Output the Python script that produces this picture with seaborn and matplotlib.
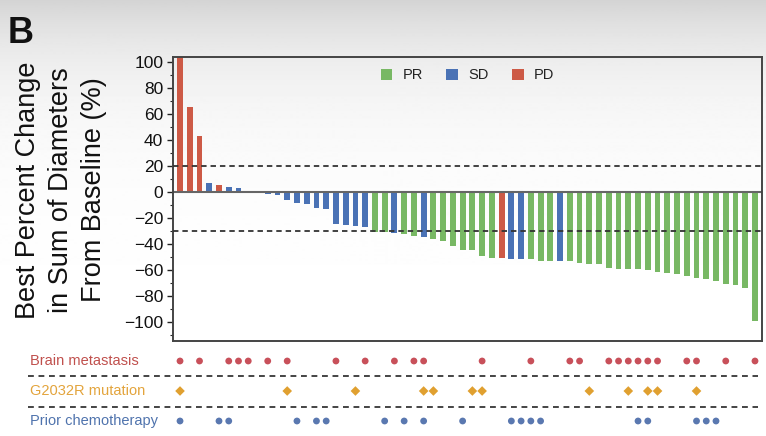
import numpy as np
import pandas as pd
import seaborn as sns
import matplotlib
matplotlib.use('Agg')
import matplotlib.pyplot as plt
import matplotlib.transforms as mtransforms
from matplotlib import font_manager
from matplotlib.ticker import MultipleLocator

# best % change per patient (sorted waterfall)
best_change = [108, 65, 43, 7, 5, 3.8, 3.3, 1, 0.3, -2, -2.3, -6, -8.5, -9.7, -12.7,
               -13, -25, -25.2, -26, -26.7, -30.5, -31, -31.8, -32.6, -34, -34.6,
               -36.4, -38, -42, -44.5, -45, -49.3, -50.8, -50.8, -51.4, -51.6, -51.9,
               -52.9, -53.2, -53.2, -53.4, -54.5, -55.2, -55.2, -58.5, -59, -59.3,
               -59.5, -60.3, -61.6, -62.3, -63.4, -65, -66, -67, -68.4, -70.5, -71.8,
               -73.8, -99]
response = (['PD', 'PD', 'PD', 'SD', 'PD'] + ['SD'] * 15 + ['PR', 'PR', 'SD', 'PR', 'PR', 'SD']
            + ['PR'] * 7 + ['PD', 'SD', 'SD'] + ['PR'] * 3 + ['SD'] + ['PR'] * 20)
response_order = ['PR', 'SD', 'PD']

# patient numbers (1-based, same order as bars) flagged in each row
brain_metastasis = [1, 3, 6, 7, 8, 10, 12, 17, 20, 23, 25, 26, 32, 37, 41, 42, 45, 46,
                    47, 48, 49, 50, 53, 54, 57, 60]
g2032r_mutation = [1, 12, 19, 26, 27, 31, 32, 43, 47, 49, 50, 54]
prior_chemo = [1, 5, 6, 13, 15, 16, 22, 24, 26, 30, 35, 36, 37, 38, 48, 49, 54, 55, 56]
row_labels = ['Brain metastasis', 'G2032R mutation', 'Prior chemotherapy']

bar_colors = {'PR': '#78b864', 'SD': '#4a72b5', 'PD': '#cd5a46'}
row_colors = {'Brain metastasis': '#c8505a', 'G2032R mutation': '#e0a030',
              'Prior chemotherapy': '#5a78b0'}
text_colors = {'Brain metastasis': '#c0504d', 'G2032R mutation': '#e3a43c',
               'Prior chemotherapy': '#4f73ad'}

sns.set_theme(style='white')
installed = {f.name for f in font_manager.fontManager.ttflist}
narrow = 'Liberation Sans Narrow' if 'Liberation Sans Narrow' in installed else 'Liberation Sans'
plt.rcParams['font.family'] = ['Liberation Sans', 'DejaVu Sans']

W, H = 766, 436
fig = plt.figure(figsize=(W / 100, H / 100), dpi=100)

# soft grey gradient at the top of the panel
bg = fig.add_axes([0, 0, 1, 1], zorder=-10)
rows_px = np.arange(H)
grad = (1 - 0.17 * np.exp(-rows_px / 70.0))[:, None]
bg.imshow(grad, cmap='gray', vmin=0, vmax=1, aspect='auto', extent=[0, 1, 0, 1])
bg.axis('off')

ax_l, ax_r, ax_t, ax_b = 173, 762, 56.7, 340.7
ax = fig.add_axes([ax_l / W, 1 - ax_b / H, (ax_r - ax_l) / W, (ax_b - ax_t) / H])
ax.set_facecolor('none')

df = pd.DataFrame({'patient': np.arange(len(best_change)), 'change': best_change,
                   'response': response})
sns.barplot(data=df, x='patient', y='change', hue='response', hue_order=response_order,
            palette=bar_colors, dodge=False, width=0.6, saturation=1, errorbar=None,
            linewidth=0, ax=ax)

xlim = (-0.72, len(best_change) - 1 + 0.72)
ax.set_xlim(*xlim)
ax.set_ylim(-114.5, 104)
ax.axhline(0, color='#666666', lw=1.5, zorder=1)
for yv in (20, -30):
    ax.axhline(yv, color='#333333', lw=1.3, ls=(0, (3, 2.2)), zorder=3)

ax.set_xticks([])
ax.set_xlabel('')
ax.set_ylabel('')
ax.yaxis.set_major_locator(MultipleLocator(20))
ax.yaxis.set_minor_locator(MultipleLocator(10))
ax.tick_params(axis='y', which='major', direction='out', length=4, width=1, left=True,
               labelsize=12.5, pad=3, colors='#222222')
ax.tick_params(axis='y', which='minor', direction='out', length=2.5, width=0.8, left=True)
for lab in ax.get_yticklabels():
    lab.set_color('#111111')
for sp in ax.spines.values():
    sp.set_color('#444444')
    sp.set_linewidth(1.4)

leg = ax.legend(loc='center', bbox_to_anchor=(0.5, 0.935), ncol=3, frameon=False,
                handlelength=0.8, handleheight=0.8, columnspacing=1.6,
                handletextpad=0.7, fontsize=10.5)
for t in leg.get_texts():
    t.set_color('#222222')

fig.text(8 / W, 1 - 43 / H, 'B', fontsize=26, weight='bold', color='#111111',
         va='baseline', ha='left')
fig.text(61 / W, 1 - 190 / H, 'Best Percent Change\nin Sum of Diameters\nFrom Baseline (%)',
         rotation=90, ha='center', va='center', multialignment='center',
         fontsize=19.5, family=[narrow, 'DejaVu Sans'], linespacing=1.35, color='#111111')

# annotation rows under the waterfall
ann = fig.add_axes([ax_l / W, 0, (ax_r - ax_l) / W, 1 - 345 / H])
ann.set_facecolor('none')
ann.axis('off')

row_y = {'Brain metastasis': 3, 'G2032R mutation': 2, 'Prior chemotherapy': 1}
dots = pd.DataFrame({
    'patient': [p - 1 for p in brain_metastasis + g2032r_mutation + prior_chemo],
    'row': (['Brain metastasis'] * len(brain_metastasis)
            + ['G2032R mutation'] * len(g2032r_mutation)
            + ['Prior chemotherapy'] * len(prior_chemo)),
})
dots['y'] = dots['row'].map(row_y)
sns.scatterplot(data=dots, x='patient', y='y', hue='row', style='row', palette=row_colors,
                markers={'Brain metastasis': 'o', 'G2032R mutation': 'D',
                         'Prior chemotherapy': 'o'},
                s=24, linewidth=0, legend=False, clip_on=False, ax=ann)
ann.set_xlim(*xlim)
ann.set_ylim(0.5, 3 + 16 / 30)

trans = mtransforms.blended_transform_factory(ann.transAxes, ann.transData)
x0 = (28 - ax_l) / (ax_r - ax_l)
x1 = (758 - ax_l) / (ax_r - ax_l)
for yv in (2.5, 1.48):
    ann.plot([x0, x1], [yv, yv], transform=trans, color='#444444', lw=1.4,
             ls=(0, (3, 2.4)), clip_on=False)
for lab in row_labels:
    ann.text((30 - ax_l) / (ax_r - ax_l), row_y[lab], lab, transform=trans,
             color=text_colors[lab], fontsize=10.5, va='center', ha='left')

fig.savefig('out.png', dpi=100)
